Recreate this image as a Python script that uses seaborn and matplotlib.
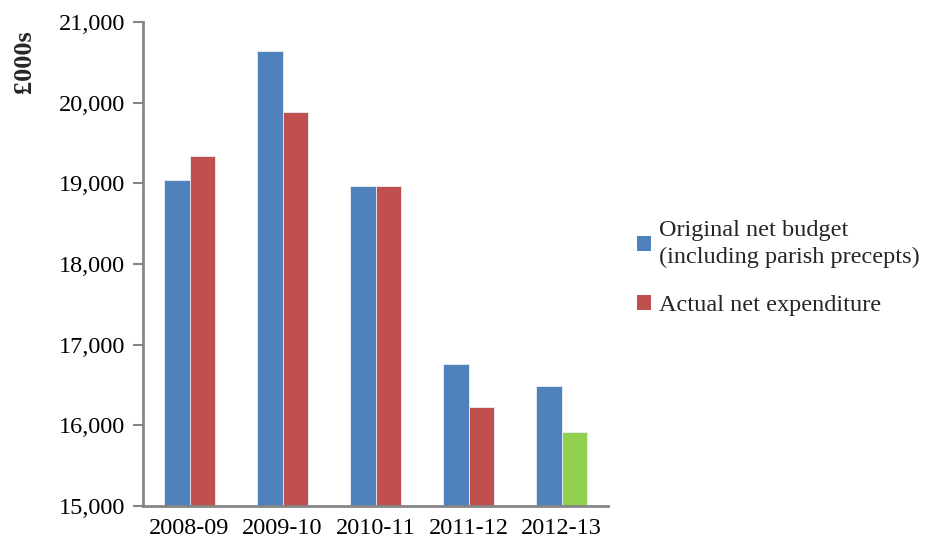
import matplotlib
matplotlib.use("Agg")
import matplotlib.pyplot as plt
import seaborn as sns
import pandas as pd
from matplotlib.patches import Patch
from matplotlib.ticker import FuncFormatter, MultipleLocator

years = ["2008-09", "2009-10", "2010-11", "2011-12", "2012-13"]
budget = [19040, 20645, 18965, 16766, 16486]
actual = [19339, 19889, 18965, 16224, 15913]
series_names = ["Original net budget\n(including parish precepts)", "Actual net expenditure"]

BLUE = "#4F81BD"
RED = "#C0504D"
GREEN = "#92D050"
GREY = "#868686"

df = pd.DataFrame({
    "year": years * 2,
    "value": budget + actual,
    "series": [series_names[0]] * len(years) + [series_names[1]] * len(years),
})

sns.set_theme(style="white")
plt.rcParams["font.family"] = ["Liberation Serif", "DejaVu Serif"]

fig = plt.figure(figsize=(9.31, 5.45), dpi=100)
ax = fig.add_axes([143 / 931, 1 - 506 / 545, (608 - 143) / 931, (506 - 22) / 545])

sns.barplot(data=df, x="year", y="value", hue="series", order=years,
            hue_order=series_names, palette=[BLUE, RED], saturation=1, width=0.55,
            edgecolor="#E8EEF7", linewidth=0.6, ax=ax, legend=False)

# the current-year outturn is shown in green
bars_actual = ax.containers[1]
bars_actual[len(years) - 1].set_facecolor(GREEN)

ax.set_ylim(15000, 21000)
ax.set_xlim(-0.5, len(years) - 0.5)
ax.yaxis.set_major_locator(MultipleLocator(1000))
ax.yaxis.set_major_formatter(FuncFormatter(lambda v, p: f"{int(v):,}"))

ax.set_xticks(range(len(years)))
ax.set_xticklabels(years)
ax.set_xticks([i - 0.5 for i in range(len(years) + 1)], minor=True)
ax.tick_params(axis="x", which="major", length=0, pad=9, labelsize=17.5, colors="black")
ax.tick_params(axis="x", which="minor", length=7, width=1.5, color=GREY, direction="out")
ax.tick_params(axis="y", which="major", length=7, width=1.5, color=GREY, direction="out",
               pad=6, labelsize=17.5, labelcolor="black", left=True)

for side in ["top", "right"]:
    ax.spines[side].set_visible(False)
for side in ["left", "bottom"]:
    ax.spines[side].set_color(GREY)
    ax.spines[side].set_linewidth(2)

ax.set_xlabel("")
ax.set_ylabel("")
fig.text(24 / 931, 1 - 30 / 545, "£000s", rotation=90, ha="center", va="top",
         fontsize=19, fontweight="bold")

handles = [Patch(facecolor=BLUE, edgecolor="none"), Patch(facecolor=RED, edgecolor="none")]
leg = fig.legend(handles, series_names, loc="center left",
                 bbox_to_anchor=(627 / 931, 1 - 268 / 545),
                 frameon=False, fontsize=17.5, handlelength=0.6, handleheight=0.6,
                 handletextpad=0.3, labelspacing=1.1, borderaxespad=0)
for t in leg.get_texts():
    t.set_linespacing(1.4)

fig.savefig("out.png", dpi=100)
